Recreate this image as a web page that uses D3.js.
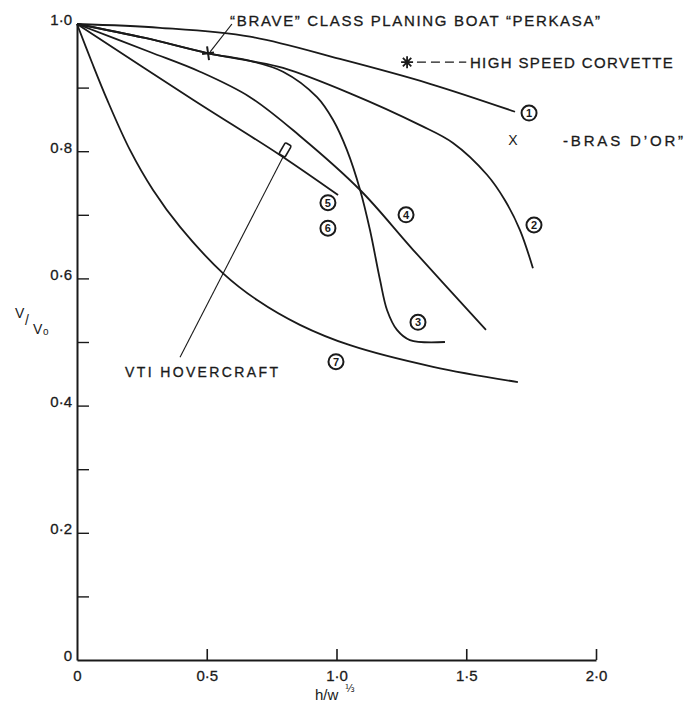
<!DOCTYPE html>
<html><head><meta charset="utf-8">
<script src="https://cdn.jsdelivr.net/npm/d3@7"></script>
<style>
html,body{margin:0;padding:0;background:#fff;}
svg{display:block;}
text{font-family:"Liberation Sans","DejaVu Sans",sans-serif;fill:#1a1a1a;}
</style></head>
<body>
<svg id="chart" width="700" height="703"></svg>
<script>
// ---- data (x = h/w^(1/3), y = V/V0) ----
const curve1 = [[0,1.0],[0.32,0.994],[0.667,0.980],[1.013,0.945],[1.36,0.906],[1.688,0.862]];
const curve2 = [[0,1.0],[0.262,0.978],[0.505,0.954],[0.667,0.942],[0.794,0.931],[1.052,0.891],[1.322,0.841],[1.449,0.813],[1.58,0.763],[1.649,0.723],[1.707,0.676],[1.757,0.616]];
const curve3 = [[0,1.0],[0.262,0.978],[0.505,0.954],[0.667,0.942],[0.794,0.925],[0.925,0.885],[0.987,0.849],[1.04,0.802],[1.091,0.739],[1.129,0.676],[1.168,0.597],[1.195,0.550],[1.233,0.519],[1.283,0.503],[1.418,0.500]];
const curve4 = [[0,1.0],[0.281,0.956],[0.474,0.925],[0.667,0.885],[0.859,0.824],[1.091,0.739],[1.295,0.645],[1.576,0.519]];
const curve5 = [[0,1.0],[0.447,0.881],[0.782,0.794],[1.006,0.731]];
const curve7 = [[0,1.0],[0.058,0.939],[0.116,0.881],[0.204,0.802],[0.293,0.739],[0.397,0.681],[0.563,0.608],[0.694,0.566],[0.859,0.527],[1.052,0.495],[1.372,0.461],[1.699,0.437]];
const curves = [curve1, curve2, curve3, curve4, curve5, curve7];

// circled curve numbers [label, x, y]
const curveLabels = [["1",1.742,0.860],["2",1.761,0.684],["3",1.314,0.531],["4",1.268,0.700],["5",0.967,0.719],["6",0.967,0.679],["7",0.998,0.469]];

// individual craft points
const bravePoint = [0.505, 0.954];
const hoverPoint = [0.802, 0.802];
const corvettePoint = [1.272, 0.940];
const brasPoint = [1.680, 0.818];

// annotation texts
const braveText = "\u201CBRAVE\u201D CLASS PLANING BOAT \u201CPERKASA\u201D";
const corvetteText = "HIGH SPEED CORVETTE";
const brasText = "-BRAS D\u2019OR\u201D";
const hoverText = "VTI HOVERCRAFT";

// ticks
const xTicks = [0, 0.5, 1.0, 1.5, 2.0];
const xTickLabels = ["0", "0\u00B75", "1\u00B70", "1\u00B75", "2\u00B70"];
const yTicks = [0, 0.1, 0.2, 0.3, 0.4, 0.5, 0.6, 0.7, 0.8, 0.9, 1.0];
const yTickLabels = ["0", "", "0\u00B72", "", "0\u00B74", "", "0\u00B76", "", "0\u00B78", "", "1\u00B70"];

// ---- drawing ----
const svg = d3.select("#chart");
const x = d3.scaleLinear().domain([0, 2]).range([77, 596]);
const y = d3.scaleLinear().domain([0, 1]).range([660, 24]);
const ink = "#1a1a1a";
const fontStack = '"Liberation Sans","DejaVu Sans",sans-serif';

// axes
const xAxis = d3.axisBottom(x).tickValues(xTicks)
  .tickFormat((d, i) => xTickLabels[i]).tickSize(-11).tickSizeOuter(0).tickPadding(10);
const gx = svg.append("g").attr("transform", `translate(0,${y(0)})`).call(xAxis);
gx.selectAll(".tick line").attr("stroke", ink).attr("stroke-width", 1.6)
  .filter(d => d === 0).remove();
gx.select(".domain").attr("stroke", ink).attr("stroke-width", 2);
gx.selectAll("text").attr("font-size", 15).attr("fill", ink)
  .attr("stroke", ink).attr("stroke-width", 0.3).style("font-family", fontStack);

const yAxis = d3.axisLeft(y).tickValues(yTicks)
  .tickFormat((d, i) => yTickLabels[i]).tickSize(-12).tickSizeOuter(0).tickPadding(5);
const gy = svg.append("g").attr("transform", `translate(${x(0)},0)`).call(yAxis);
gy.selectAll(".tick line").attr("stroke", ink).attr("stroke-width", 1.4)
  .filter(d => d === 0 || d === 1).remove();
gy.select(".domain").attr("stroke", ink).attr("stroke-width", 2);
gy.selectAll("text").attr("font-size", 15).attr("fill", ink)
  .attr("stroke", ink).attr("stroke-width", 0.3)
  .attr("transform", "translate(0,-4)").style("font-family", fontStack);

// curves
const line = d3.line().x(d => x(d[0])).y(d => y(d[1])).curve(d3.curveCatmullRom.alpha(0.5));
svg.append("g").selectAll("path").data(curves).join("path")
  .attr("d", line).attr("fill", "none").attr("stroke", ink)
  .attr("stroke-width", 1.8).attr("stroke-linejoin", "round");

// circled numbers
const cl = svg.append("g").selectAll("g").data(curveLabels).join("g")
  .attr("transform", d => `translate(${x(d[1])},${y(d[2])})`);
cl.append("circle").attr("r", 7.5).attr("fill", "#fff").attr("stroke", ink).attr("stroke-width", 2);
cl.append("text").text(d => d[0]).attr("text-anchor", "middle").attr("dy", "0.36em")
  .attr("font-size", 11).attr("font-weight", "bold");

// BRAVE: plus marker + leader + text
svg.append("path")
  .attr("transform", `translate(${x(bravePoint[0])},${y(bravePoint[1])}) rotate(-8)`)
  .attr("d", "M-6,0H6M0,-7V7").attr("stroke", ink).attr("stroke-width", 2).attr("fill", "none");
svg.append("line")
  .attr("x1", x(0.597)).attr("y1", y(1.0)).attr("x2", x(0.513)).attr("y2", y(0.956))
  .attr("stroke", ink).attr("stroke-width", 1.2);
svg.append("text").text(braveText)
  .attr("x", x(0.590)).attr("y", y(0.997)).attr("font-size", 15)
  .attr("stroke", ink).attr("stroke-width", 0.3)
  .attr("textLength", 370).attr("lengthAdjust", "spacing");

// Corvette: asterisk + dashes + text
svg.append("path")
  .attr("transform", `translate(${x(corvettePoint[0])},${y(corvettePoint[1])})`)
  .attr("d", "M-6,0H6M0,-6V6M-4.2,-4.2L4.2,4.2M-4.2,4.2L4.2,-4.2")
  .attr("stroke", ink).attr("stroke-width", 1.8).attr("fill", "none");
svg.append("line")
  .attr("x1", x(1.31)).attr("y1", y(0.940)).attr("x2", x(1.50)).attr("y2", y(0.940))
  .attr("stroke", ink).attr("stroke-width", 1.3).attr("stroke-dasharray", "9,5");
svg.append("text").text(corvetteText)
  .attr("x", x(1.514)).attr("y", y(0.931)).attr("font-size", 15)
  .attr("stroke", ink).attr("stroke-width", 0.3)
  .attr("textLength", 203).attr("lengthAdjust", "spacing");

// Bras d'Or
svg.append("text").text("X")
  .attr("x", x(brasPoint[0])).attr("y", y(brasPoint[1])).attr("dy", "0.36em")
  .attr("text-anchor", "middle").attr("font-size", 14);
svg.append("text").text(brasText)
  .attr("x", x(1.873)).attr("y", y(0.808)).attr("font-size", 15)
  .attr("stroke", ink).attr("stroke-width", 0.3)
  .attr("textLength", 120).attr("lengthAdjust", "spacing");

// Hovercraft: diamond marker + leader + text
svg.append("line")
  .attr("x1", x(0.794)).attr("y1", y(0.791)).attr("x2", x(0.397)).attr("y2", y(0.476))
  .attr("stroke", ink).attr("stroke-width", 1.1);
svg.append("rect")
  .attr("x", -3.5).attr("y", -6.5).attr("width", 7).attr("height", 13).attr("rx", 1.5)
  .attr("transform", `translate(${x(hoverPoint[0])},${y(hoverPoint[1])}) rotate(30)`)
  .attr("fill", "#fff").attr("stroke", ink).attr("stroke-width", 1.6);
svg.append("text").text(hoverText)
  .attr("x", x(0.185)).attr("y", y(0.445)).attr("font-size", 14)
  .attr("stroke", ink).attr("stroke-width", 0.3)
  .attr("textLength", 153).attr("lengthAdjust", "spacing");

// axis titles
const yt = svg.append("text").attr("font-size", 14);
yt.append("tspan").attr("x", 15).attr("y", 318).text("V");
yt.append("tspan").attr("x", 25).attr("y", 325).text("/");
yt.append("tspan").attr("x", 33).attr("y", 334).text("V");
yt.append("tspan").attr("x", 43).attr("y", 335).attr("font-size", 10).text("o");

const xt = svg.append("text").attr("font-size", 15);
xt.append("tspan").attr("x", 315).attr("y", 700).text("h/w");
xt.append("tspan").attr("x", 345).attr("y", 692).attr("font-size", 10)
  .style("font-family", '"DejaVu Sans",sans-serif').text("\u2153");
</script>
</body></html>
